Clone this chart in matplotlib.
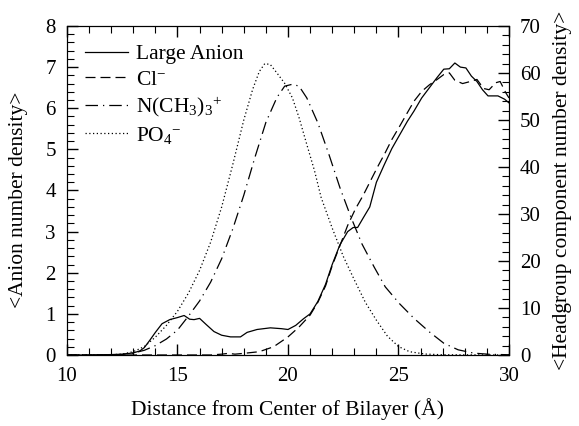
import matplotlib
matplotlib.use("Agg")
import matplotlib.pyplot as plt
from matplotlib.ticker import MultipleLocator

plt.rcParams['font.family'] = ['Liberation Serif', 'DejaVu Serif']
plt.rcParams['mathtext.fontset'] = 'custom'
plt.rcParams['mathtext.rm'] = 'Liberation Serif'
plt.rcParams['mathtext.it'] = 'Liberation Serif:italic'
plt.rcParams['mathtext.bf'] = 'Liberation Serif:bold'

# ---- data ----
anion_x = [10, 11, 12, 12.5, 13.0, 13.3, 13.5, 13.75, 14.0, 14.3, 14.65, 15.0, 15.3, 15.55, 15.75,
           16.0, 16.3, 16.65, 17.0, 17.4, 17.85, 18.15, 18.6, 19.2, 19.7, 20.0, 20.35, 20.7, 21.0,
           21.35, 21.7, 22.0, 22.35, 22.7, 22.95, 23.15, 23.4, 23.7, 24.0, 24.35, 24.7, 25.05, 25.4,
           25.7, 26.05, 26.4, 26.75, 27.05, 27.3, 27.55, 27.8, 28.05, 28.3, 28.55, 28.8, 29.05, 29.5,
           29.8, 30.0]
anion_y = [0, 0, 0.01, 0.02, 0.05, 0.1, 0.18, 0.36, 0.55, 0.76, 0.86, 0.91, 0.96, 0.87, 0.86,
           0.89, 0.74, 0.57, 0.48, 0.44, 0.44, 0.55, 0.62, 0.66, 0.64, 0.62, 0.72, 0.88, 1.0,
           1.3, 1.72, 2.2, 2.68, 3.0, 3.1, 3.1, 3.33, 3.6, 4.2, 4.62, 5.02, 5.35, 5.68,
           5.93, 6.25, 6.5, 6.75, 6.95, 6.96, 7.1, 7.0, 6.98, 6.78, 6.65, 6.45, 6.3, 6.3,
           6.22, 6.13]

cl_x = [10, 16.5, 17.0, 17.3, 17.6, 18.0, 18.7, 19.35, 20.0, 20.5, 21.0, 21.35, 21.7, 22.0, 22.35,
        22.7, 23.05, 23.4, 23.7, 24.05, 24.4, 24.7, 25.05, 25.4, 25.7, 26.05, 26.4, 26.75, 27.05,
        27.3, 27.55, 27.9, 28.25, 28.55, 28.85, 29.1, 29.4, 29.6, 29.85, 30.0]
cl_y = [0, 0, 0.02, 0.04, 0.02, 0.04, 0.08, 0.2, 0.44, 0.68, 0.97, 1.28, 1.68, 2.17, 2.66,
        3.15, 3.55, 3.88, 4.2, 4.57, 4.92, 5.24, 5.56, 5.89, 6.17, 6.41, 6.57, 6.7, 6.82,
        6.86, 6.68, 6.6, 6.65, 6.7, 6.48, 6.45, 6.62, 6.65, 6.38, 6.25]

nme3_x = [10, 12.0, 12.5, 13.0, 13.5, 14.0, 14.5, 15.0, 15.5, 16.0, 16.5, 17.0, 17.5, 18.0, 18.5,
          19.0, 19.5, 19.85, 20.2, 20.5, 20.85, 21.35, 21.85, 22.35, 22.85, 23.35, 23.9, 24.4,
          25.05, 25.7, 26.4, 27.05, 27.7, 28.4, 29.1, 30.0]
nme3_y = [0, 0, 0.1, 0.4, 1.0, 2.0, 3.4, 5.3, 8.3, 11.5, 15.5, 20.5, 26.8, 34.0, 42.0,
          49.5, 54.8, 57.2, 57.6, 57.2, 54.7, 49.4, 42.7, 35.6, 29.3, 23.6, 18.7, 14.5,
          10.9, 7.8, 4.9, 2.5, 1.1, 0.4, 0.15, 0.05]

po4_x = [10, 12.0, 12.5, 13.0, 13.5, 14.0, 14.5, 15.0, 15.5, 16.0, 16.5, 17.0, 17.5, 18.0, 18.4,
         18.7, 18.95, 19.2, 19.5, 19.85, 20.2, 20.5, 20.85, 21.2, 21.5, 22.0, 22.5, 23.0, 23.5,
         24.0, 24.5, 25.0, 25.5, 26.2, 27.0, 30.0]
po4_y = [0, 0.05, 0.2, 0.7, 1.8, 3.8, 6.3, 9.3, 13.2, 18.0, 24.0, 31.5, 40.5, 50.0, 56.5,
         60.3, 62.0, 61.8, 60.0, 57.8, 54.7, 50.5, 44.8, 39.2, 33.5, 27.0, 21.0, 16.0, 11.2,
         7.4, 4.0, 1.8, 0.7, 0.2, 0.05, 0]

labels = ["Large Anion", "Cl$^{-}$", "N(CH$_3$)$_3$$^{+}$", "PO$_4$$^{-}$"]
xlabel = "Distance from Center of Bilayer (Å)"
ylabel_left = "<Anion number density>"
ylabel_right = "<Headgroup component number density>"

# ---- plot ----
fig = plt.figure(figsize=(5.79, 4.26), dpi=100)
ax = fig.add_axes([0.1157, 0.1667, 0.7634, 0.7723])
ax2 = ax.twinx()

lw = 0.9
l1, = ax.plot(anion_x, anion_y, color='black', lw=lw, linestyle='-')
l2, = ax.plot(cl_x, cl_y, color='black', lw=lw, linestyle=(0, (8, 4)))
l3, = ax2.plot(nme3_x, nme3_y, color='black', lw=lw, linestyle=(0, (10, 4, 1, 4)))
l4, = ax2.plot(po4_x, po4_y, color='black', lw=lw, linestyle=(0, (1, 2)))

ax.set_xlim(10, 30)
ax.set_ylim(0, 8)
ax2.set_ylim(0, 70)

fs = 15
lfs = 15.5
ax.xaxis.set_major_locator(MultipleLocator(5))
ax.xaxis.set_minor_locator(MultipleLocator(1))
ax.yaxis.set_major_locator(MultipleLocator(1))
ax.yaxis.set_minor_locator(MultipleLocator(0.2))
ax2.yaxis.set_major_locator(MultipleLocator(10))
ax2.yaxis.set_minor_locator(MultipleLocator(2))

ax.tick_params(axis='x', which='both', direction='in', top=True, bottom=True, labelsize=fs, pad=9)
ax.tick_params(axis='y', which='both', direction='in', left=True, right=False, labelsize=fs, pad=8)
ax2.tick_params(axis='y', which='both', direction='in', right=True, left=False, labelsize=fs, pad=8)
for a in (ax, ax2):
    a.tick_params(which='major', length=8, width=1)
    a.tick_params(which='minor', length=5, width=0.8)

ax.set_xlabel(xlabel, fontsize=lfs, labelpad=8)
ax.set_ylabel(ylabel_left, fontsize=lfs)
ax2.set_ylabel(ylabel_right, fontsize=lfs)
ax.yaxis.set_label_coords(-0.088, 0.472)
ax2.yaxis.set_label_coords(1.10, 0.5)

ax2.legend([l1, l2, l3, l4], labels, loc='upper left', frameon=False, fontsize=lfs,
           handlelength=2.0, labelspacing=0.25, borderaxespad=0.4, borderpad=0.45,
           handletextpad=0.35)

fig.savefig("out.png", dpi=100)
